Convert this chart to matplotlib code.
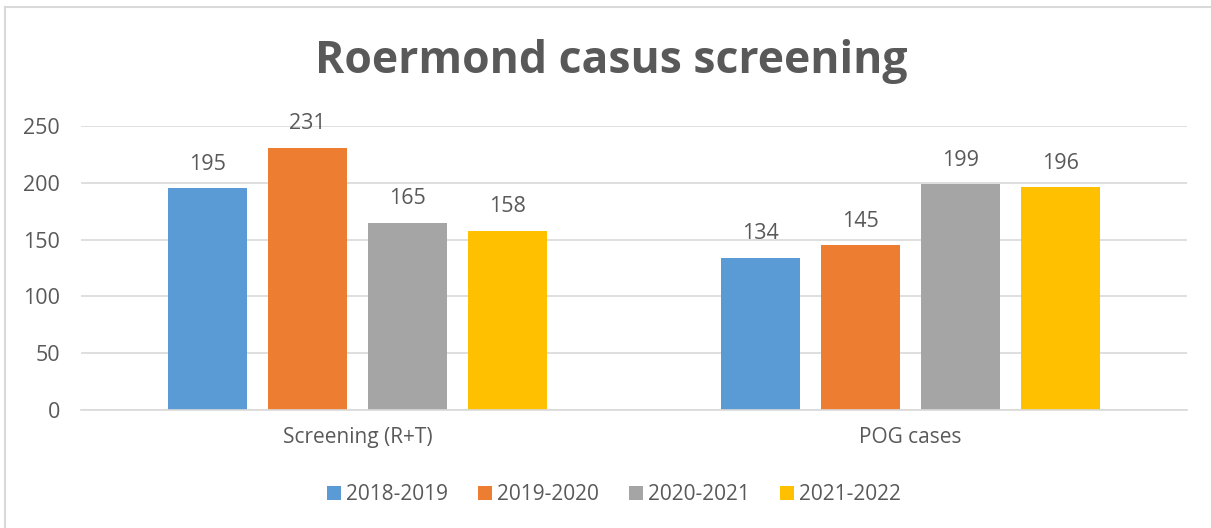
import numpy as np
import matplotlib.pyplot as plt
from matplotlib.lines import Line2D
from matplotlib.patches import Patch

categories = ["Screening (R+T)", "POG cases"]
seasons = ["2018-2019", "2019-2020", "2020-2021", "2021-2022"]
values = {
    "2018-2019": [195, 134],
    "2019-2020": [231, 145],
    "2020-2021": [165, 199],
    "2021-2022": [158, 196],
}
colors = ["#5B9BD5", "#ED7D31", "#A5A5A5", "#FFC000"]
text_color = "#595959"

plt.rcParams['font.family'] = ['Open Sans', 'DejaVu Sans']

fig = plt.figure(figsize=(12.11, 5.28), dpi=100)
ax = fig.add_axes([81 / 1211, 1 - 410 / 528, 1106 / 1211, 284 / 528])

x = np.arange(len(categories))
step = 100 / 553
width = 79 / 553
for i, season in enumerate(seasons):
    pos = x + (i - 1.5) * step
    bars = ax.bar(pos, values[season], width=width, color=colors[i], label=season, zorder=2)
    for b, v in zip(bars, values[season]):
        ax.text(b.get_x() + b.get_width() / 2, v + 21, str(v), ha='center', va='center',
                fontsize=15.5, color=text_color)

ax.set_xlim(-0.5, 1.5)
ax.set_ylim(0, 250)
ax.set_yticks(range(0, 251, 50))
ax.yaxis.grid(True, color="#D9D9D9", linewidth=1.2, zorder=0)
ax.set_axisbelow(True)
ax.set_xticks(x)
ax.set_xticklabels(categories)
for s in ax.spines.values():
    s.set_visible(False)
ax.spines['bottom'].set_visible(True)
ax.spines['bottom'].set_color("#D9D9D9")
ax.spines['bottom'].set_linewidth(1.2)
ax.tick_params(axis='both', length=0, labelsize=15.5, colors=text_color)
ax.tick_params(axis='x', labelsize=15, pad=12)
ax.tick_params(axis='y', pad=15)

fig.text(611 / 1211, 1 - 62 / 528, "Roermond casus screening", ha='center', va='center',
         fontsize=32, fontweight='bold', color=text_color)

handles = [Patch(facecolor=c, label=s) for s, c in zip(seasons, colors)]
fig.legend(handles=handles, loc='center', bbox_to_anchor=(614 / 1211, 1 - 495 / 528),
           ncol=4, frameon=False, fontsize=15, handlelength=0.67, handleheight=0.67,
           handletextpad=0.24, columnspacing=1.44, labelcolor=text_color)

# chart border (partly cropped in the reference)
fig.add_artist(Line2D([5 / 1211, 5 / 1211], [0, 1 - 7 / 528], color="#D9D9D9", linewidth=1.5,
                      transform=fig.transFigure))
fig.add_artist(Line2D([5 / 1211, 1], [1 - 7 / 528, 1 - 7 / 528], color="#D9D9D9", linewidth=1.5,
                      transform=fig.transFigure))

fig.savefig("out.png", dpi=100)
